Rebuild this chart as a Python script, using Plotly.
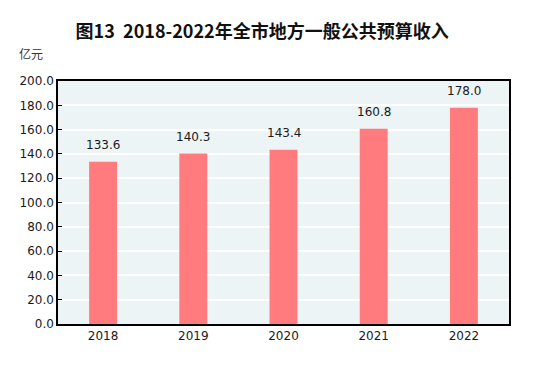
import plotly.graph_objects as go

years = ["2018", "2019", "2020", "2021", "2022"]
revenue = [133.6, 140.3, 143.4, 160.8, 178.0]
y_ticks = [0, 20, 40, 60, 80, 100, 120, 140, 160, 180, 200]
title_text = "图13  2018-2022年全市地方一般公共预算收入"
unit_text = "亿元"

fig = go.Figure(go.Bar(
    x=years, y=revenue,
    marker=dict(color="#FF7B7E", line=dict(width=0)),
    width=0.31,
))

# category axis: annotations positioned by category index
label_annotations = [
    dict(x=i, y=v, text=f"{v:.1f}", xref="x", yref="y", showarrow=False,
         yanchor="bottom", yshift=8,
         font=dict(family="DejaVu Sans", size=12, color="#1a1a1a"))
    for i, v in enumerate(revenue)
]

fig.update_layout(
    width=535, height=368,
    margin=dict(l=50, r=34, t=73, b=52),
    paper_bgcolor="white",
    plot_bgcolor="#EDF4F6",
    showlegend=False,
    title=dict(text="<b>" + title_text + "</b>", x=0.475, xanchor="center", y=0.935, yanchor="middle",
               font=dict(family="Noto Sans CJK SC", size=18, color="#111111")),
    annotations=label_annotations + [
        dict(text=unit_text, xref="paper", yref="paper", x=-0.091, y=1.115,
             xanchor="left", yanchor="middle", showarrow=False,
             font=dict(family="Noto Sans CJK SC", size=12, color="#333333"))],
)
fig.update_xaxes(
    type="category",
    showline=True, linecolor="black", linewidth=1.5, mirror=True,
    tickfont=dict(family="DejaVu Sans", size=12, color="#1a1a1a"),
    ticks="", showgrid=False,
)
fig.update_yaxes(
    range=[0, 200], tickvals=y_ticks, ticktext=[f"{v:.1f}" for v in y_ticks],
    showline=True, linecolor="black", linewidth=1.5, mirror=True,
    ticks="inside", ticklen=4, tickcolor="black",
    gridcolor="white", gridwidth=1.5, zeroline=False,
    tickfont=dict(family="DejaVu Sans", size=12, color="#1a1a1a"),
)

fig.write_html("out.html")
